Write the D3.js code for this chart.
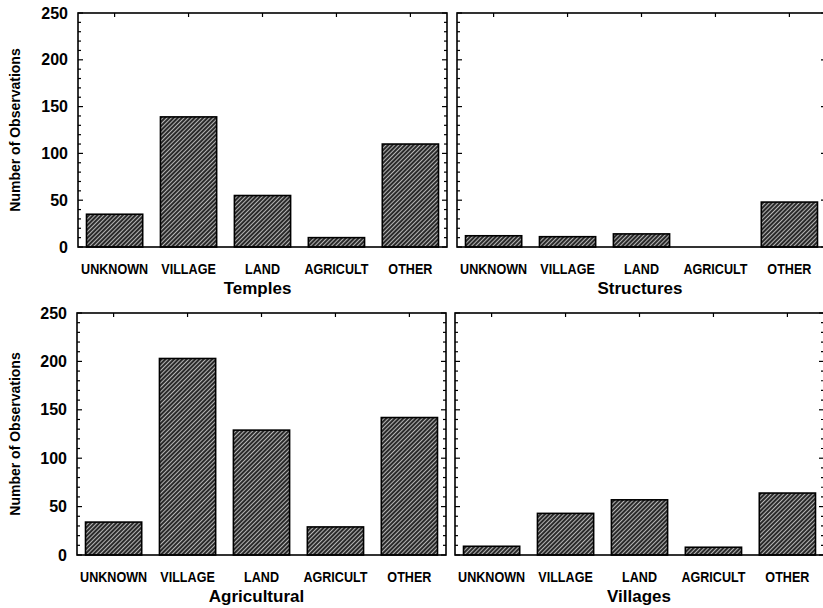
<!DOCTYPE html>
<html><head><meta charset="utf-8">
<script src="https://cdn.jsdelivr.net/npm/d3@7"></script>
<style>body{margin:0;background:#fff}svg{display:block}</style>
</head><body>
<svg id="c" width="823" height="608"></svg>
<script>
const categories = ["UNKNOWN","VILLAGE","LAND","AGRICULT","OTHER"];
const temples = [35,139,55,10,110];
const structures = [12,11,14,0,48];
const agricultural = [34,203,129,29,142];
const villages = [9,43,57,8,64];
const yTicks = [0,50,100,150,200,250];
const panelTitles = ["Temples","Structures","Agricultural","Villages"];
const yLabel = "Number of Observations";

const panels = [
  {title: panelTitles[0], values: temples, x0: 78, x1: 447, y0: 247, y1: 13, left: true},
  {title: panelTitles[1], values: structures, x0: 457, x1: 826, y0: 247, y1: 13, left: false},
  {title: panelTitles[2], values: agricultural, x0: 77, x1: 446, y0: 555, y1: 313, left: true},
  {title: panelTitles[3], values: villages, x0: 455, x1: 824, y0: 555, y1: 313, left: false}
];

const svg = d3.select("#c");
const defs = svg.append("defs");
const pat = defs.append("pattern").attr("id","hatch").attr("patternUnits","userSpaceOnUse")
  .attr("width",3).attr("height",3).attr("patternTransform","rotate(45)");
pat.append("rect").attr("width",3).attr("height",3).attr("fill","#2a2a2a");
pat.append("line").attr("x1",0.5).attr("y1",0).attr("x2",0.5).attr("y2",3)
  .attr("stroke","#b5b5b5").attr("stroke-width",1);

panels.forEach(p => {
  const g = svg.append("g");
  const x = d3.scaleBand().domain(categories).range([p.x0, p.x1]).paddingInner(0.24).paddingOuter(0.115);
  const y = d3.scaleLinear().domain([0, 250]).range([p.y0, p.y1]);
  const minor = d3.range(0, 251, 10);

  g.selectAll("rect.bar").data(categories).join("rect")
    .attr("x", d => x(d)).attr("width", x.bandwidth())
    .attr("y", (d,i) => y(p.values[i])).attr("height", (d,i) => y(0) - y(p.values[i]))
    .attr("fill", "url(#hatch)").attr("stroke", "#000").attr("stroke-width", 1.6);

  g.append("rect").attr("x", p.x0).attr("y", p.y1).attr("width", p.x1 - p.x0).attr("height", p.y0 - p.y1)
    .attr("fill","none").attr("stroke","#000").attr("stroke-width",1.6);

  const tickG = g.append("g").attr("stroke","#000").attr("stroke-width",1.2);
  minor.forEach(v => {
    const major = v % 50 === 0;
    const len = major ? 5 : 3;
    tickG.append("line").attr("x1", p.x0).attr("x2", p.x0 + len).attr("y1", y(v)).attr("y2", y(v));
    tickG.append("line").attr("x1", p.x1).attr("x2", p.x1 - len).attr("y1", y(v)).attr("y2", y(v));
  });
  categories.forEach(c => {
    const cx = x(c) + x.bandwidth()/2;
    tickG.append("line").attr("x1", cx).attr("x2", cx).attr("y1", p.y1).attr("y2", p.y1 + 4);
  });

  if (p.left) {
    const ax = d3.axisLeft(y).tickValues(yTicks).tickSize(0).tickPadding(10);
    const axg = g.append("g").attr("transform", `translate(${p.x0},0)`).call(ax);
    axg.select(".domain").remove();
    axg.selectAll("text").attr("font-family","Liberation Sans, Arial, sans-serif")
      .attr("font-size",16).attr("font-weight","bold").attr("fill","#000");
    g.append("text").attr("transform", `translate(20,${(p.y0 + p.y1)/2}) rotate(-90)`)
      .attr("text-anchor","middle").attr("font-family","Liberation Sans, Arial, sans-serif")
      .attr("font-size",14).attr("font-weight","bold").text(yLabel);
  }

  g.selectAll("text.cat").data(categories).join("text").attr("class","cat")
    .attr("transform", d => `translate(${x(d) + x.bandwidth()/2},${p.y0 + 27}) scale(0.84,1)`)
    .attr("text-anchor","middle").attr("font-family","Liberation Sans, Arial, sans-serif")
    .attr("font-size",15).attr("font-weight","bold").text(d => d);

  g.append("text").attr("x", (p.x0 + Math.min(p.x1, 823))/2 + (p.left ? -5 : 0)).attr("y", p.y0 + 47)
    .attr("text-anchor","middle").attr("font-family","Liberation Sans, Arial, sans-serif")
    .attr("font-size",17).attr("font-weight","bold").text(p.title);
});
</script>
</body></html>
